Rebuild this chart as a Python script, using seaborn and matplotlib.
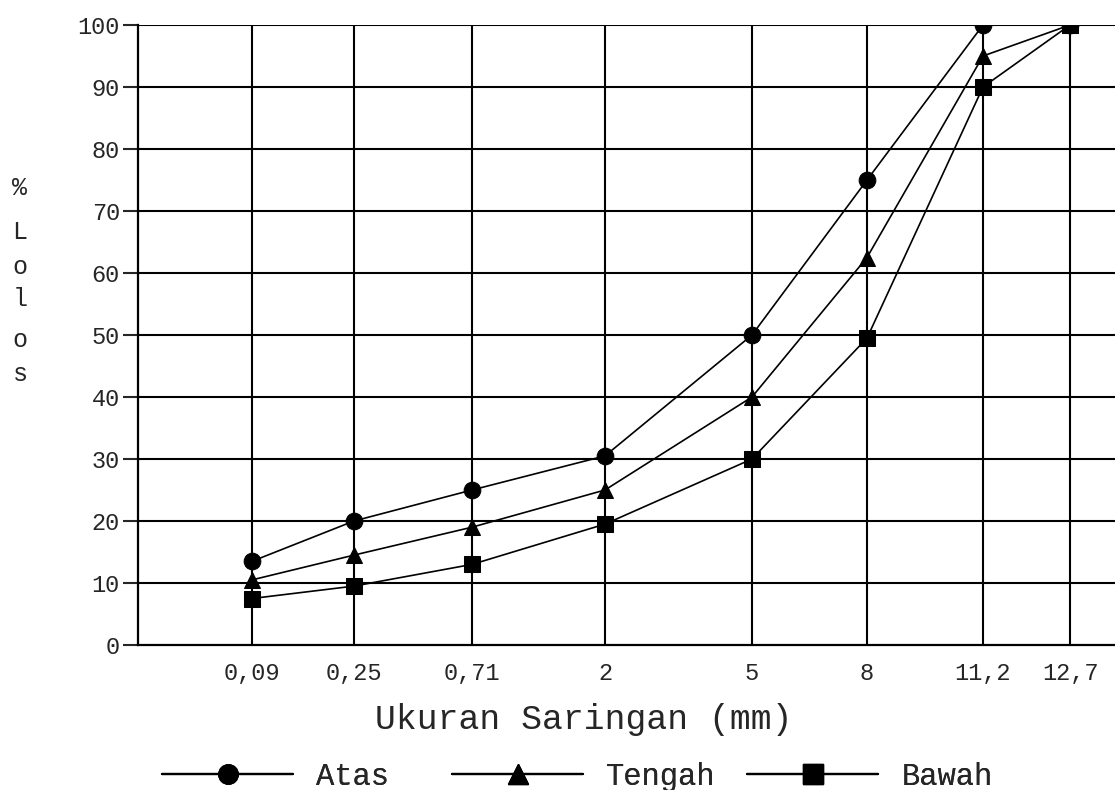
import numpy as np
import pandas as pd
import matplotlib
matplotlib.use("Agg")
import matplotlib.pyplot as plt
import seaborn as sns
from matplotlib.lines import Line2D

# sieve sizes and their (unevenly spaced) positions on the x axis
sizes = ["0,09", "0,25", "0,71", "2", "5", "8", "11,2", "12,7"]
xpos = [1.14, 2.16, 3.34, 4.67, 6.14, 7.29, 8.45, 9.32]

atas = [13.5, 20, 25, 30.5, 50, 75, 100, 100]
tengah = [10.5, 14.5, 19, 25, 40, 62.5, 95, 100]
bawah = [7.5, 9.5, 13, 19.5, 30, 49.5, 90, 100]

series = ["Atas", "Tengah", "Bawah"]
markers = {"Atas": "o", "Tengah": "^", "Bawah": "s"}

df = pd.DataFrame({
    "x": xpos * 3,
    "lolos": atas + tengah + bawah,
    "seri": np.repeat(series, len(xpos)),
})

sns.set_style("white")
plt.rcParams['font.family'] = ['Liberation Mono', 'DejaVu Sans Mono']

fig = plt.figure(figsize=(11.15, 7.9), dpi=100)
ax = fig.add_axes([138 / 1115, 1 - 645 / 790, 1 - 138 / 1115, 620 / 790])

# grid
for yv in range(10, 101, 10):
    ax.axhline(yv, color="black", lw=1.5, zorder=1)
for xv in xpos:
    ax.axvline(xv, color="black", lw=1.5, zorder=1)

sns.lineplot(data=df, x="x", y="lolos", hue="seri", style="seri",
             palette=["black"] * 3, markers=markers,
             dashes=False, markersize=12, lw=1.2, ax=ax, zorder=3,
             markeredgecolor="black", legend=False)

ax.set_xlim(0, 9.77)
ax.set_ylim(0, 100)
ax.set_xticks(xpos)
ax.set_xticklabels(sizes)
ax.set_yticks(range(0, 101, 10))
ax.set_yticklabels([str(v) for v in range(0, 101, 10)])
ax.tick_params(axis="y", length=11, width=1.5, direction="out", pad=2,
               left=True, labelsize=17)
ax.tick_params(axis="x", length=0, pad=12, labelsize=17)
ax.set_xlabel("")
ax.set_ylabel("")
for s in ["top", "right"]:
    ax.spines[s].set_visible(False)
for s in ["left", "bottom"]:
    ax.spines[s].set_color("black")
    ax.spines[s].set_linewidth(1.6)

fig.text(584 / 1115, 1 - 720 / 790, "Ukuran Saringan (mm)", fontsize=25,
         ha="center", va="center")

# vertical y label
for ch, yy in zip("%Lolos", [188, 232, 267, 299, 340, 374]):
    fig.text(20 / 1115, 1 - yy / 790, ch, fontsize=18, ha="center", va="center")

# legend, one entry per block like the original
for name, x0 in zip(series, [162, 452, 747]):
    h = Line2D([], [], color="black", lw=1.6, marker=markers[name], markersize=14)
    leg = fig.legend([h], [name], loc="center left",
                     bbox_to_anchor=(x0 / 1115, 1 - 777 / 790),
                     frameon=False, fontsize=22, handlelength=4.3,
                     handletextpad=0.75, borderpad=0, borderaxespad=0)
    fig.add_artist(leg)

fig.savefig("out.png", dpi=100)
